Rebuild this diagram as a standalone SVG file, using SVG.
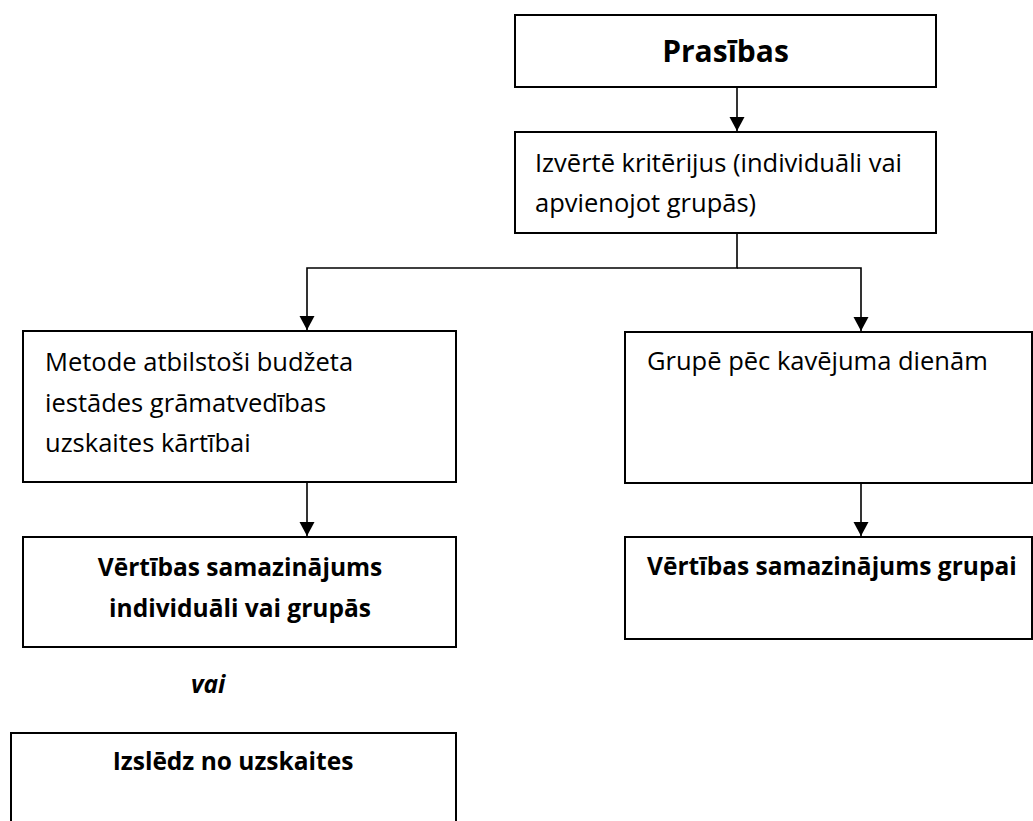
<svg xmlns="http://www.w3.org/2000/svg" width="1033" height="821" viewBox="0 0 1033 821">
<defs>
<style>
.box{fill:#fff;stroke:#000;stroke-width:2}
.t{font-family:"Open Sans","Noto Sans","Liberation Sans",sans-serif;font-size:25.5px;fill:#000}
.b{font-family:"Open Sans","Noto Sans","Liberation Sans",sans-serif;font-size:24.5px;font-weight:bold;fill:#000}
.c{fill:none;stroke:#000;stroke-width:1.6}
</style>
<marker id="ah" markerUnits="userSpaceOnUse" markerWidth="16" markerHeight="16" viewBox="0 0 16 16" refX="15" refY="8" orient="auto">
<path d="M1,0.5 L15,8 L1,15.5 Z" fill="#000"/>
</marker>
</defs>
<rect width="1033" height="821" fill="#fff"/>
<g id="connectors">
<path class="c" d="M737,87 V131" marker-end="url(#ah)"/>
<path class="c" d="M737,233 V268 H307 V330" marker-end="url(#ah)"/>
<path class="c" d="M737,268 H861 V331" marker-end="url(#ah)"/>
<path class="c" d="M307,482 V536" marker-end="url(#ah)"/>
<path class="c" d="M861,483 V536" marker-end="url(#ah)"/>
</g>
<g id="n1">
<rect class="box" x="515" y="15" width="421" height="72"/>
<text class="b" x="725.5" y="62" text-anchor="middle" style="font-size:30px">Prasības</text>
</g>
<g id="n2">
<rect class="box" x="515" y="132" width="421" height="101"/>
<text class="t" x="535" y="172">Izvērtē kritērijus (individuāli vai</text>
<text class="t" x="535" y="212">apvienojot grupās)</text>
</g>
<g id="n3">
<rect class="box" x="23" y="331" width="433" height="151"/>
<text class="t" x="45" y="371">Metode atbilstoši budžeta</text>
<text class="t" x="45" y="412">iestādes grāmatvedības</text>
<text class="t" x="45" y="452">uzskaites kārtībai</text>
</g>
<g id="n4">
<rect class="box" x="625" y="332" width="407" height="151"/>
<text class="t" x="647" y="370">Grupē pēc kavējuma dienām</text>
</g>
<g id="n5">
<rect class="box" x="23" y="537" width="433" height="110"/>
<text class="b" x="240" y="576" text-anchor="middle">Vērtības samazinājums</text>
<text class="b" x="240" y="617" text-anchor="middle">individuāli vai grupās</text>
</g>
<g id="n6">
<rect class="box" x="625" y="537" width="407" height="102"/>
<text class="b" x="647" y="575">Vērtības samazinājums grupai</text>
</g>
<g id="lbl">
<text class="b" x="191" y="693" font-style="italic">vai</text>
</g>
<g id="n7">
<rect class="box" x="11" y="733" width="445" height="100"/>
<text class="b" x="233" y="770" text-anchor="middle">Izslēdz no uzskaites</text>
</g>
</svg>
